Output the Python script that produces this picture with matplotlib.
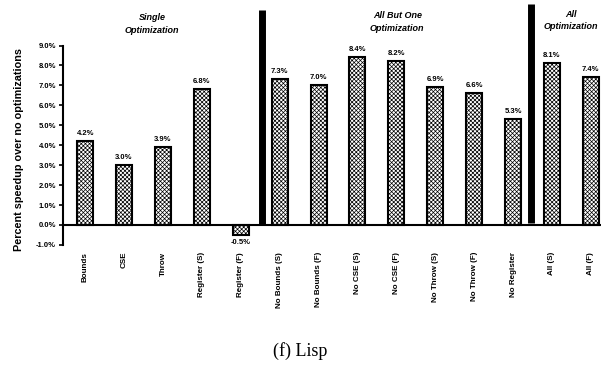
import matplotlib
matplotlib.use("Agg")
import matplotlib.pyplot as plt
import numpy as np

plt.rcParams['font.family'] = ['Liberation Sans', 'DejaVu Sans']
plt.rcParams['hatch.linewidth'] = 0.5

# speedup per configuration, percent over no optimizations
names = ['Bounds', 'CSE', 'Throw', 'Register (S)', 'Register (F)',
         'No Bounds (S)', 'No Bounds (F)', 'No CSE (S)', 'No CSE (F)',
         'No Throw (S)', 'No Throw (F)', 'No Register',
         'All (S)', 'All (F)']
speedup = [4.2, 3.0, 3.9, 6.8, -0.5,
           7.3, 7.0, 8.4, 8.2, 6.9, 6.6, 5.3,
           8.1, 7.4]
yticks = [-1, 0, 1, 2, 3, 4, 5, 6, 7, 8, 9]
groups = ['Single\nOptimization', 'All But One\nOptimization', 'All\nOptimization']

fig = plt.figure(figsize=(6.01, 3.70), dpi=100)
ax = fig.add_axes([0.105, 0.338, 0.895, 0.539])

x = np.arange(len(names))
ax.bar(x, speedup, width=0.41, color='white', edgecolor='black',
       linewidth=1.5, hatch='xxxxxxxx')

for xi, v in zip(x, speedup):
    if v >= 0:
        ax.annotate(f'{v:.1f}%', (xi, v), xytext=(0, 3), textcoords='offset points',
                    ha='center', va='bottom', fontsize=5.5, fontweight='bold')
    else:
        ax.annotate(f'{v:.1f}%', (xi, v), xytext=(0, -3), textcoords='offset points',
                    ha='center', va='top', fontsize=5.5, fontweight='bold')

# category names under the axis, turned upright
for xi, n in zip(x, names):
    ax.text(xi, -1.35, n, rotation=90, ha='center', va='top',
            fontsize=5.8, fontweight='bold')

# thick separators between the groups
ax.plot([4.55, 4.55], [0.05, 10.8], color='black', lw=5, clip_on=False,
        solid_capstyle='butt')
ax.plot([11.45, 11.45], [0.1, 11.1], color='black', lw=5, clip_on=False,
        solid_capstyle='butt')

ax.set_xlim(-0.566, 13.26)
ax.set_ylim(-1, 9)
ax.set_yticks(yticks)
ax.set_yticklabels([f'{t:.1f}%' for t in yticks], fontsize=5.5, fontweight='bold')
ax.tick_params(axis='y', direction='out', length=3, width=1.2, pad=2)
ax.set_xticks([])

for s in ['top', 'right']:
    ax.spines[s].set_visible(False)
ax.spines['bottom'].set_position(('data', 0))
ax.spines['bottom'].set_linewidth(1.5)
ax.spines['left'].set_linewidth(1.5)

ax.set_ylabel('Percent speedup over no optimizations', fontsize=7.8,
              fontweight='bold', labelpad=3)
ax.yaxis.set_label_coords(-0.072, 0.48)

fig.text(0.253, 0.935, groups[0], ha='center', va='center', fontsize=6.5,
         fontweight='bold', style='italic', linespacing=1.5)
fig.text(0.661, 0.940, groups[1], ha='center', va='center', fontsize=6.5,
         fontweight='bold', style='italic', linespacing=1.5)
fig.text(0.950, 0.945, groups[2], ha='center', va='center', fontsize=6.5,
         fontweight='bold', style='italic', linespacing=1.5)

fig.text(0.5, 0.052, '(f) Lisp', ha='center', va='center', fontsize=13,
         family=['Liberation Serif', 'DejaVu Serif'])

fig.savefig('out.png', dpi=100)
